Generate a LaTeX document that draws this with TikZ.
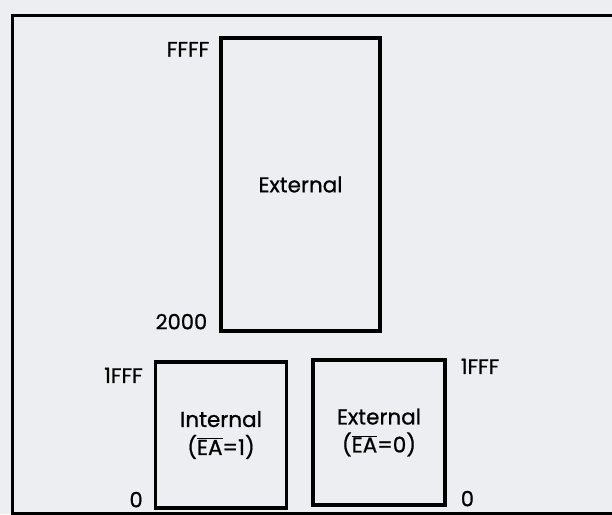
\documentclass[tikz,border=0pt]{standalone}
\usepackage{fontspec}
\setmainfont{Poppins}[BoldFont=Poppins, BoldFeatures={FakeBold=0.8}]
\definecolor{paper}{RGB}{237,238,241}
\begin{document}
\begin{tikzpicture}[x=1pt,y=-1pt,
  membox/.style={draw=black, line width=3.2pt, fill=none, inner sep=0pt, align=center,
    font=\fontsize{21.5}{28}\selectfont\bfseries},
  addr/.style={font=\fontsize{21}{22}\selectfont\bfseries, inner sep=0pt}]
\useasboundingbox (0,0) rectangle (612,514);
\fill[paper] (0,0) rectangle (612,514);
% outer frame
\draw[line width=3pt] (640,15) -- (12,15) -- (12,513) -- (640,513);
% memory boxes
\node[membox, minimum width=159pt, minimum height=293pt] (ext) at (300.5,184.5) {External};
\node[membox, minimum width=131pt, minimum height=146pt] (int) at (221,435) {Internal\\($\overline{\hbox{EA}}$=1)};
\node[membox, minimum width=132pt, minimum height=145pt] (ext0) at (379,432.5) {External\\($\overline{\hbox{EA}}$=0)};
% address labels
\node[addr, anchor=east] (ffff) at ([xshift=-10pt,yshift=-13pt]ext.north west) {FFFF};
\node[addr, anchor=east] (a2000) at ([xshift=-12pt,yshift=11pt]ext.south west) {2000};
\node[addr, anchor=east] (ifff) at ([xshift=-11pt,yshift=-15pt]int.north west) {1FFF};
\node[addr, anchor=east] (izero) at ([xshift=-11pt,yshift=10pt]int.south west) {0};
\node[addr, anchor=west] (efff) at ([xshift=14pt,yshift=-8pt]ext0.north east) {1FFF};
\node[addr, anchor=west] (ezero) at ([xshift=14pt,yshift=8pt]ext0.south east) {0};
\end{tikzpicture}
\end{document}
